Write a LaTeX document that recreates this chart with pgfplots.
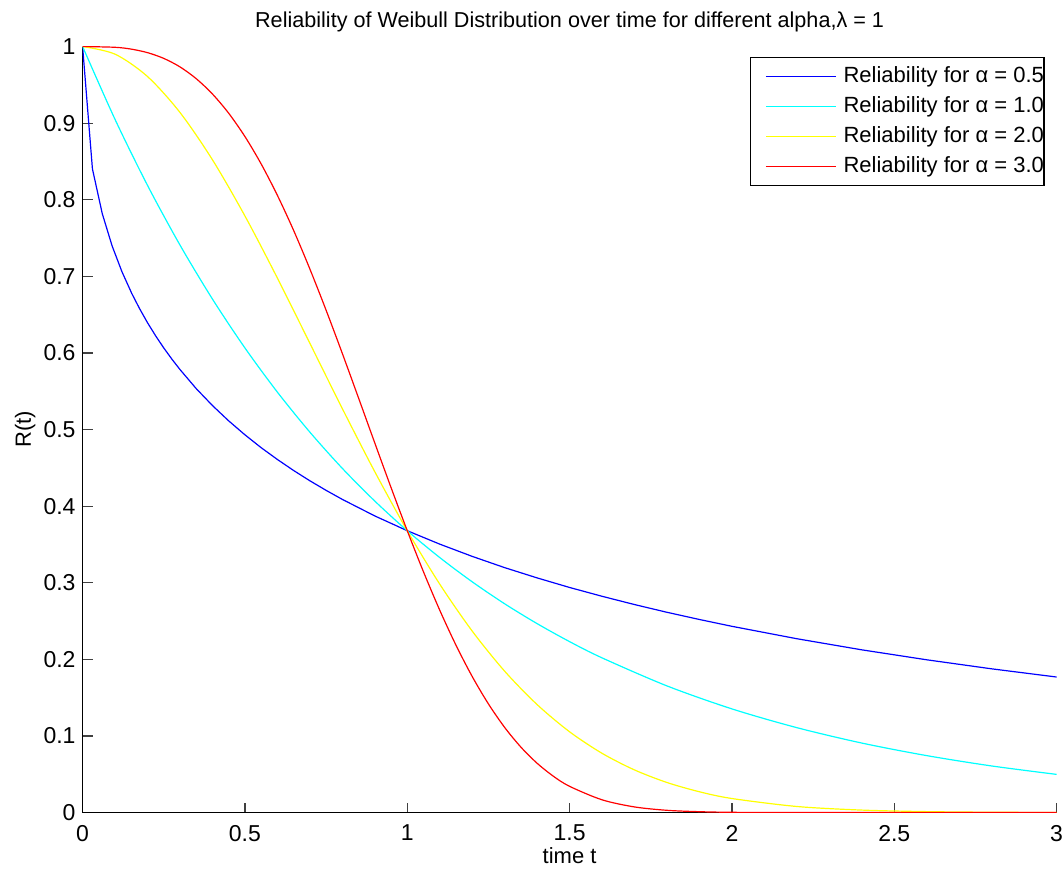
\documentclass[border=0pt]{standalone}
\usepackage{fontspec}
\setmainfont{Liberation Sans}
\usepackage{pgfplots}
\pgfplotsset{compat=1.18}
\definecolor{mblue}{RGB}{0,0,255}
\definecolor{mcyan}{RGB}{0,255,255}
\definecolor{myellow}{RGB}{255,255,0}
\definecolor{mred}{RGB}{255,0,0}
\begin{document}
\begin{tikzpicture}
\begin{axis}[
  scale only axis,
  width=487pt, height=383pt,
  xmin=0, xmax=3, ymin=0, ymax=1,
  axis lines=left,
  axis line style={-, black, line width=0.6pt},
  tick align=inside,
  tick style={black!75, line width=0.6pt},
  major tick length=5pt,
  xtick={0,0.5,...,3},
  ytick={0,0.1,...,1},
  /pgf/number format/assume math mode=true,
  ticklabel style={font=\fontsize{11.5}{14}\selectfont},
  yticklabel style={/pgf/number format/fixed, /pgf/number format/precision=1},
  xticklabel style={/pgf/number format/fixed, /pgf/number format/precision=1, yshift=-2.7pt, inner xsep=0pt},
  label style={font=\fontsize{11}{13}\selectfont},
  xlabel={time t},
  ylabel={R(t)},
  xlabel style={yshift=3.5pt},
  ylabel style={inner ysep=7.5pt},
  ylabel shift=-7pt,
  title={Reliability of Weibull Distribution over time for different alpha,λ = 1},
  title style={font=\fontsize{10.8}{13}\selectfont, inner ysep=6pt, yshift=-5pt},
  legend style={at={(1,1)}, anchor=north east, xshift=-6pt, yshift=-5pt,
    draw=black, line width=0.6pt, inner xsep=0pt, inner ysep=4pt,
    row sep=4pt, column sep=3.5pt, font=\fontsize{11}{13}\selectfont,
    nodes={inner sep=0pt, text height=8.5pt, text depth=2.5pt}},
  legend cell align=left,
  legend image code/.code={\path (0pt,0pt); \draw[#1, line width=0.6pt] (7.5pt,0pt) -- (42.5pt,0pt);},
  every axis plot/.append style={line width=0.6pt},
]
\addplot[mblue] coordinates {
(0,1) (0.0303,0.8402) (0.0606,0.7818) (0.0909,0.7397) (0.1212,0.7060) (0.1515,0.6776)
(0.175,0.6582) (0.2,0.6394) (0.225,0.6223) (0.25,0.6065) (0.275,0.5919) (0.3,0.5783)
(0.35,0.5534) (0.4,0.5313) (0.45,0.5113) (0.5,0.4931) (0.55,0.4763) (0.6,0.4609)
(0.65,0.4465) (0.7,0.4331) (0.75,0.4206) (0.8,0.4088) (0.9,0.3872) (1.0,0.3679)
(1.1,0.3504) (1.2,0.3344) (1.3,0.3197) (1.4,0.3063) (1.5,0.2938) (1.6,0.2823)
(1.7,0.2715) (1.8,0.2614) (1.9,0.2520) (2.0,0.2431) (2.2,0.2269) (2.4,0.2124)
(2.6,0.1994) (2.8,0.1876) (3.0,0.1769)};
\addplot[mcyan, smooth] coordinates {
(0,1) (0.1,0.9048) (0.2,0.8187) (0.3,0.7408) (0.4,0.6703) (0.5,0.6065) (0.6,0.5488)
(0.7,0.4966) (0.8,0.4493) (0.9,0.4066) (1.0,0.3679) (1.1,0.3329) (1.2,0.3012)
(1.3,0.2725) (1.4,0.2466) (1.5,0.2231) (1.6,0.2019) (1.8,0.1653) (2.0,0.1353)
(2.2,0.1108) (2.4,0.0907) (2.6,0.0743) (2.8,0.0608) (3.0,0.0498)};
\addplot[myellow, smooth] coordinates {
(0,1) (0.1,0.9900) (0.2,0.9608) (0.3,0.9139) (0.4,0.8521) (0.5,0.7788) (0.6,0.6977)
(0.7,0.6126) (0.8,0.5273) (0.9,0.4449) (1.0,0.3679) (1.1,0.2982) (1.2,0.2369)
(1.3,0.1845) (1.4,0.1409) (1.5,0.1054) (1.6,0.0773) (1.7,0.0556) (1.8,0.0392)
(1.9,0.0271) (2.0,0.0183) (2.2,0.0079) (2.4,0.0032) (2.6,0.0012) (2.8,0.0004) (3.0,0.0001)};
\addplot[mred, smooth] coordinates {
(0,1) (0.1,0.9990) (0.15,0.9966) (0.2,0.9920) (0.25,0.9845) (0.3,0.9734) (0.35,0.9580)
(0.4,0.9380) (0.45,0.9129) (0.5,0.8825) (0.55,0.8467)
(0.6,0.8057) (0.65,0.7599) (0.7,0.7096) (0.75,0.6558) (0.8,0.5993) (0.85,0.5411)
(0.9,0.4824) (0.95,0.4243) (1.0,0.3679) (1.05,0.3142) (1.1,0.2642) (1.15,0.2185)
(1.2,0.1776) (1.25,0.1418) (1.3,0.1111) (1.35,0.0854) (1.4,0.0643) (1.45,0.0474)
(1.5,0.0342) (1.6,0.0166) (1.7,0.0073) (1.8,0.0029) (1.9,0.0011) (2.0,0.0003)
(2.2,0.0000) (3.0,0.0000)};
\legend{Reliability for α = 0.5, Reliability for α = 1.0, Reliability for α = 2.0, Reliability for α = 3.0}
\end{axis}
\end{tikzpicture}
\end{document}
